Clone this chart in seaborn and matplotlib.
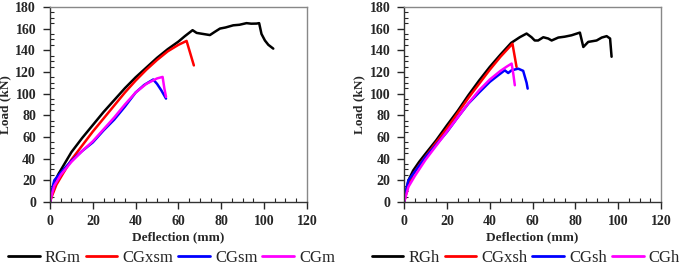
import numpy as np
import pandas as pd
import seaborn as sns
import matplotlib.pyplot as plt
from matplotlib.ticker import MultipleLocator

# ---- data (deflection mm, load kN) ----
rgm_x = [0, 1, 2, 4, 7, 10, 15, 20, 25, 30, 35, 40, 45, 50, 55, 60, 63, 66.6, 68.5, 71.6, 74.7, 77, 79.4, 82, 85.6, 88.5, 91.8, 94, 96.5, 97.7, 98.8, 100.4, 102, 104.3]
rgm_y = [0, 9, 18, 26, 36, 46, 59, 71, 83, 94, 105, 115, 124, 133, 141, 148, 153, 158.5, 156, 155, 154, 157, 160, 161, 163, 163.5, 165, 164.5, 164.6, 165, 155, 149, 145, 141.5]

cgxsm_x = [0, 1, 3, 6, 10, 15, 20, 25, 30, 35, 40, 45, 50, 55, 60, 63.8, 67.2]
cgxsm_y = [0, 6, 16, 26, 39, 52, 65, 77, 89, 101, 112, 122, 131, 139, 145, 148.6, 126]

cgsm_x = [0, 1, 2, 5, 10, 15, 20, 25, 30, 35, 40, 44, 48.2, 50, 52, 54.2]
cgsm_y = [0, 12, 20, 27, 38, 47, 55, 66, 76, 88, 101, 108, 113, 109, 103, 95.4]

cgm_x = [0, 1, 2, 5, 10, 15, 20, 25, 30, 35, 40, 45, 50, 52.6, 53.4, 54.2]
cgm_y = [0, 8, 15, 25, 37, 47, 56, 67, 78, 90, 101, 109, 114, 115.4, 105, 97]

rgh_x = [0, 1, 2, 4.2, 7, 10, 15, 20, 25, 30, 35, 40, 45, 50, 54, 57.2, 59.5, 61, 62.6, 65, 67.3, 68.9, 72, 75, 78.2, 82.1, 83.7, 86, 89.9, 92.3, 94.6, 96.2, 96.9]
rgh_y = [0, 10, 20, 29, 37, 44.6, 57, 70.8, 84, 98.5, 112, 124.6, 136, 146.8, 152, 155.4, 152, 149, 149, 152, 150.8, 149, 151.7, 152.5, 153.8, 156.3, 143, 147.7, 149, 151.7, 153, 150.8, 134]

cgxsh_x = [0, 1, 2, 4, 7, 10, 15, 20, 25, 30, 35, 40, 45, 50.6, 52.5]
cgxsh_y = [0, 8, 16, 25, 34, 42, 55, 68, 82, 96, 109, 122, 134, 146, 124.6]

cgsh_x = [0, 1, 2, 5, 10, 15, 20, 25, 30, 35, 40, 44, 47, 48.6, 50.2, 53.3, 55.6, 57.2, 57.7]
cgsh_y = [0, 12, 20, 28, 41.5, 53, 64.6, 78, 90.8, 101, 110.8, 117, 121.5, 119, 121.5, 123, 121, 110, 104.6]

cgh_x = [0, 1, 2, 5, 10, 15, 20, 25, 30, 35, 40, 45, 48, 50.2, 51, 51.7]
cgh_y = [0, 7, 14, 24, 39, 52, 65, 78, 91, 103, 113, 121, 125, 127.7, 118, 107.7]

left_series = {'RGm': (rgm_x, rgm_y), 'CGxsm': (cgxsm_x, cgxsm_y),
               'CGsm': (cgsm_x, cgsm_y), 'CGm': (cgm_x, cgm_y)}
right_series = {'RGh': (rgh_x, rgh_y), 'CGxsh': (cgxsh_x, cgxsh_y),
                'CGsh': (cgsh_x, cgsh_y), 'CGh': (cgh_x, cgh_y)}
colors = ['black', '#ff0000', '#0000ff', '#ff00ff']


def to_frame(series):
    rows = []
    for name, (xs, ys) in series.items():
        for x, y in zip(xs, ys):
            rows.append({'Deflection': x, 'Load': y, 'Specimen': name})
    return pd.DataFrame(rows)


sns.set_style("ticks")
plt.rcParams['font.family'] = ['Liberation Serif', 'DejaVu Serif']

fig = plt.figure(figsize=(6.85, 2.71), dpi=100)
ax_l = fig.add_axes([0.073, 0.2546, 0.375, 0.72])
ax_r = fig.add_axes([0.590, 0.2546, 0.375, 0.72])

for ax, series in [(ax_l, left_series), (ax_r, right_series)]:
    df = to_frame(series)
    names = list(series.keys())
    sns.lineplot(data=df, x='Deflection', y='Load', hue='Specimen', hue_order=names,
                 palette=dict(zip(names, colors)), sort=False, estimator=None,
                 units='Specimen', linewidth=1.8, ax=ax, legend=False)
    ax.set_xlim(0, 120)
    ax.set_ylim(0, 180)
    ax.xaxis.set_major_locator(MultipleLocator(20))
    ax.xaxis.set_minor_locator(MultipleLocator(5))
    ax.yaxis.set_major_locator(MultipleLocator(20))
    ax.yaxis.set_minor_locator(MultipleLocator(5))
    ax.tick_params(which='major', direction='out', length=5, width=1, labelsize=10)
    ax.tick_params(axis='x', which='major', pad=4)
    ax.tick_params(axis='y', which='major', pad=5)
    ax.tick_params(which='minor', direction='in', length=3, width=0.8)
    for lab in ax.get_xticklabels() + ax.get_yticklabels():
        lab.set_fontweight('bold')
    ax.set_xlabel('Deflection (mm)', fontsize=9.5, fontweight='bold', labelpad=3)
    ax.set_ylabel('Load (kN)', fontsize=9.5, fontweight='bold', labelpad=3)
    for s in ['left', 'bottom']:
        ax.spines[s].set_color('#333333')
        ax.spines[s].set_linewidth(1)
    for s in ['top', 'right']:
        ax.spines[s].set_color('#888888')
        ax.spines[s].set_linewidth(1)
        ax.spines[s].set_visible(True)
    handles = [plt.Line2D([], [], color=c, linewidth=2) for c in colors]
    pos = ax.get_position()
    fig.legend(handles, names, loc='center', ncol=4, frameon=False,
               bbox_to_anchor=((pos.x0 + pos.x1) / 2 - 0.01, 0.048),
               fontsize=12, handlelength=1.9, handletextpad=0.3, columnspacing=0.3,
               borderpad=0.1)

fig.savefig('out.png', dpi=100)
